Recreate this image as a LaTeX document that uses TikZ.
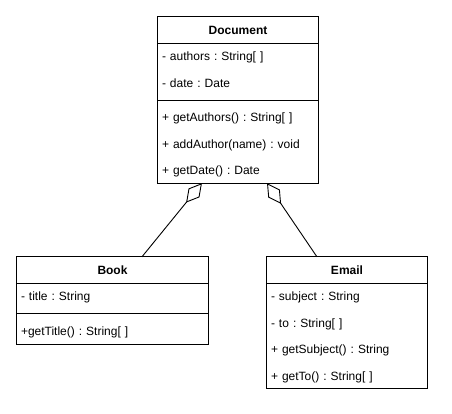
\documentclass[tikz,border=0pt]{standalone}
\usepackage{fontspec}
\setmainfont{Liberation Sans}
\usetikzlibrary{positioning,arrows.meta,calc}
\frenchspacing

\begin{document}
\begin{tikzpicture}[
        x=1pt, y=1pt,
        font=\fontsize{12}{14}\selectfont,
        header/.style={
            rectangle,
            minimum width=#1,
            minimum height=26pt,
            inner sep=0pt,
            text height=10.5pt,
            text depth=1.5pt,
            font=\fontsize{12}{14}\selectfont\bfseries
        },
        header/.default=160pt,
        member/.style={
            rectangle,
            text width=#1,
            align=left,
            minimum height=26pt,
            inner xsep=4pt,
            inner ysep=0pt,
            text height=10.5pt,
            text depth=1.5pt
        },
        member/.default=152pt,
        frame/.style={draw=black, line width=0.9pt},
        aggregation/.style={
            draw=black,
            line width=0.9pt,
            {Diamond[open,length=25pt,width=14pt]}-
        }
    ]
    \useasboundingbox (0,0) rectangle (452,-414);

    % Document
    \node[header] (doc) at (238,-30) {Document};
    \node[member, below=0pt of doc] (doc-authors) {- authors : String[ ]};
    \node[member, below=0pt of doc-authors] (doc-date) {- date : Date};
    \node[member, below=8pt of doc-date] (doc-getauthors) {+ getAuthors() : String[ ]};
    \node[member, below=0pt of doc-getauthors] (doc-addauthor) {+ addAuthor(name) : void};
    \node[member, below=0pt of doc-addauthor] (doc-getdate) {+ getDate() : Date};
    \draw[frame] (doc.north west) rectangle (doc-getdate.south east);
    \draw[frame] (doc.south west) -- (doc.south east);
    \draw[frame] ([yshift=-4pt]doc-date.south west) -- ([yshift=-4pt]doc-date.south east);

    % Book
    \node[header=191pt] (book) at (112.5,-270) {Book};
    \node[member=183pt, below=0pt of book] (book-title) {- title : String};
    \node[member=183pt, below=8pt of book-title] (book-gettitle) {+getTitle() : String[ ]};
    \draw[frame] (book.north west) rectangle (book-gettitle.south east);
    \draw[frame] (book.south west) -- (book.south east);
    \draw[frame] ([yshift=-4pt]book-title.south west) -- ([yshift=-4pt]book-title.south east);

    % Email
    \node[header] (email) at (347,-270) {Email};
    \node[member, below=0pt of email] (email-subject) {- subject : String};
    \node[member, below=0pt of email-subject] (email-to) {- to : String[ ]};
    \node[member, below=0pt of email-to] (email-getsubject) {+ getSubject() : String};
    \node[member, below=0pt of email-getsubject] (email-getto) {+ getTo() : String[ ]};
    \draw[frame] (email.north west) rectangle (email-getto.south east);
    \draw[frame] (email.south west) -- (email.south east);

    % aggregations
    \draw[aggregation]
        ($(doc-getdate.south west)!0.275!(doc-getdate.south east)$) --
        ($(book.north west)!0.654!(book.north east)$);
    \draw[aggregation]
        ($(doc-getdate.south west)!0.681!(doc-getdate.south east)$) --
        ($(email.north west)!0.3125!(email.north east)$);

\end{tikzpicture}
\end{document}
